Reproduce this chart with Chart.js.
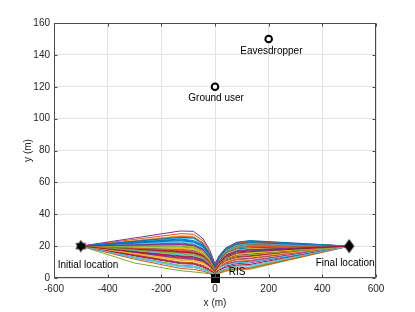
<!DOCTYPE html>
<html>
<head>
<meta charset="utf-8">
<script src="https://cdn.jsdelivr.net/npm/chart.js@4.4.1/dist/chart.umd.min.js"></script>
<style>
html,body{margin:0;padding:0;background:#fff;}
canvas{display:block;}
</style>
</head>
<body>
<canvas id="c" width="415" height="312"></canvas>
<script>
// ---- data ----
const xTicks = [-600, -400, -200, 0, 200, 400, 600];
const yTicks = [0, 20, 40, 60, 80, 100, 120, 140, 160];
const trajX = [-500, -300, -130, -80, -45, -20, 0, 15, 40, 80, 130, 300, 500];
const trajY = [
  [20,21.1,22,21.1,18.5,13.2,6.5,11.4,16.3,19.1,20.5,20.3,20],
  [20,24.2,27.8,27.5,23.4,16.7,8,13.1,18.2,21.5,22.5,21.4,20],
  [20,23.5,26.5,26.2,22.3,15.9,7.5,13.0,18.5,22.1,23.2,21.7,20],
  [20,25.1,29.5,29.3,24.8,17.7,9,13.9,18.8,22.0,23.0,21.6,20],
  [20,19.7,19.5,18.7,16.4,11.7,5.8,10.1,14.3,17.1,18,18.9,20],
  [20,22.7,25,24.7,21,15,7,12.1,17.2,20.5,21.5,20.8,20],
  [20,18.1,16.5,15.8,13.9,9.9,5,8.5,12,14.3,15,17.3,20],
  [20,22.2,24,23,20.2,14.4,7.2,12.4,17.6,21,22,21.1,20],
  [20,15.7,12,11.5,10.1,7.2,3.8,6.3,8.8,10.5,11,15.1,20],
  [20,20.3,20.5,19.7,17.2,12.3,6,10.7,15.5,18.6,19.5,19.7,20],
  [20,13.9,9,8.6,6.8,4.7,2.8,5.1,7.5,9,9.5,14.3,20],
  [20,9.4,4.6,3.8,3.2,2.6,1.3,2.8,4.2,5.2,5.5,12.2,20],
  [20,21.6,23,22.1,19.3,13.8,6.8,11.4,16,19.1,20,20,20],
  [20,16.8,14,13.4,11.8,8.4,4.2,7.5,10.7,12.8,13.5,16.5,20],
  [20,18.9,18,17.3,15.1,10.8,5.5,9.5,13.5,16.2,17,18.4,20],
  [20,23.2,26,25.7,21.8,15.6,7.8,13.1,18.3,21.8,22.8,21.5,20],
  [20,15.1,11,10.6,9,6.3,3.4,5,6.6,7.7,8,13.5,20],
  [20,20.5,21,20.2,17.6,12.6,6.2,11.4,16.6,20,21,20.5,20],
  [20,17.3,15,14.4,12.6,9,4.5,8.5,12.5,15.2,16,17.8,20],
  [20,12.5,7,6.5,5.1,3.6,2,3.8,5.5,6.7,7,13,20],
  [20,18.4,17,16.3,14.3,10.2,5.2,8.3,11.4,13.4,14,16.8,20],
  [20,23,25.5,25.2,21.4,15.3,7.5,13.1,18.7,22.4,23.5,21.9,20],
  [20,14.6,10,9.6,8,5.6,3,6.2,9.3,11.4,12,15.7,20],
  [20,19.5,19,18.2,16,11.4,5.6,10.1,14.6,17.6,18.5,19.2,20],
  [20,16.2,13,12.5,10.9,7.8,4,6.3,8.6,10,10.5,14.9,20],
  [20,13.2,8,7.6,5.9,4.1,2.4,3.8,5.3,6.2,6.5,12.7,20],
  [20,21.4,22.5,21.6,18.9,13.5,6.6,11.9,17.2,20.7,21.8,21,20],
  [20,17.8,16,15.4,13.4,9.6,4.8,9.2,13.7,16.6,17.5,18.7,20],
  [20,22.4,24.5,23.5,20.6,14.7,7.3,11.4,15.5,18.2,19,19.5,20],
  [20,11.8,6,5.4,4.3,3,1.6,3.1,4.7,5.7,6,12.4,20],
  [20,19.2,18.5,17.8,15.5,11.1,5.4,8.9,12.5,14.8,15.5,17.6,20],
  [20,16,12.5,12,10.5,7.5,3.7,6.8,9.9,11.9,12.5,16,20],
  [20,20,20,19.2,16.8,12,6,11.2,16.4,19.8,20.8,20.4,20],
  [20,17,14.5,13.9,12.2,8.7,4.4,6.4,8.3,9.6,10,14.6,20],
  [20,14.2,9.5,9.1,7.4,5.1,2.9,4.9,6.8,8.1,8.5,13.8,20],
  [20,21.9,23.5,22.6,19.7,14.1,7,12.3,17.6,21.1,22.2,21.2,20],
  [20,18.7,17.5,16.8,14.7,10.5,5.3,10.4,15.5,18.8,19.8,19.9,20],
  [20,15.4,11.5,11,9.5,6.7,3.5,6.8,10.2,12.3,13,16.2,20],
  [20,20.8,21.5,20.6,18.1,12.9,6.4,10.4,14.4,17,17.8,18.8,20],
  [20,17.6,15.5,14.9,13,9.3,4.6,8.1,11.5,13.8,14.5,17,20],
  [20,12.9,7.5,7.1,5.5,3.8,2.2,4.2,6.1,7.4,7.8,13.4,20],
  [20,16.5,13.5,13,11.3,8.1,4,8.4,12.8,15.6,16.5,18.1,20]
];
const initialLoc = [-500, 20];
const finalLoc = [500, 20];
const risLoc = [0, 0];
const userLoc = [0, 120];
const eveLoc = [200, 150];
const labelTexts = ['Eavesdropper', 'Ground user', 'Initial location', 'Final location', 'RIS'];
const labelX = [210, 4, -473, 485, 82];
const labelY = [142.2, 112.9, 8, 9, 3.8];

// ---- styles ----
const colorOrder = ['#0072BD','#D95319','#EDB120','#7E2F8E','#77AC30','#4DBEEE','#A2142F'];
const FONT = '"Liberation Sans", Arial, sans-serif';

function makeCanvas(w, h, draw) {
  const c = document.createElement('canvas');
  c.width = w; c.height = h;
  const g = c.getContext('2d');
  g.fillStyle = '#000';
  draw(g, w, h);
  return c;
}
const hexagram = makeCanvas(13, 13, (g, w, h) => {
  const cx = w/2, cy = h/2, r = 6.2;
  for (let k = 0; k < 2; k++) {
    g.beginPath();
    for (let i = 0; i < 3; i++) {
      const a = -Math.PI/2 + k*Math.PI + i*2*Math.PI/3;
      const px = cx + r*Math.cos(a), py = cy + r*Math.sin(a);
      if (i === 0) g.moveTo(px, py); else g.lineTo(px, py);
    }
    g.closePath(); g.fill();
  }
});
const diamond = makeCanvas(11, 15, (g, w, h) => {
  g.beginPath();
  g.moveTo(w/2, 0.5); g.lineTo(w-0.5, h/2); g.lineTo(w/2, h-0.5); g.lineTo(0.5, h/2);
  g.closePath(); g.fill();
});
const square = makeCanvas(9, 9, (g, w, h) => { g.fillRect(0, 0, w, h); });

const datasets = [];
function marker(loc, style) {
  return {
    data: [{x: loc[0], y: loc[1]}], showLine: false, pointStyle: style,
    pointRadius: 6, pointHoverRadius: 6, order: 0, clip: false
  };
}
datasets.push(marker(initialLoc, hexagram));
datasets.push(marker(finalLoc, diamond));
datasets.push(marker(risLoc, square));
[userLoc, eveLoc].forEach(loc => datasets.push({
  data: [{x: loc[0], y: loc[1]}], showLine: false, pointStyle: 'circle',
  pointRadius: 3.3, borderWidth: 2, borderColor: '#000', backgroundColor: '#fff', order: 0
}));
trajY.forEach((ys, i) => {
  datasets.push({
    data: ys.map((y, j) => ({x: trajX[j], y: y})),
    showLine: true, pointRadius: 0, borderWidth: 1, tension: 0,
    borderColor: colorOrder[i % colorOrder.length], backgroundColor: 'transparent',
    order: 1000 - i
  });
});

const boxPlugin = {
  id: 'box',
  afterDatasetsDraw(chart) {
    const ctx = chart.ctx;
    const xs = chart.scales.x, ys = chart.scales.y;
    // labels
    ctx.save();
    ctx.fillStyle = '#000';
    ctx.font = '10px ' + FONT;
    ctx.textAlign = 'center';
    ctx.textBaseline = 'middle';
    labelTexts.forEach((t, i) => {
      ctx.fillText(t, xs.getPixelForValue(labelX[i]), ys.getPixelForValue(labelY[i]));
    });
    ctx.restore();
  },
  afterDraw(chart) {
    const ctx = chart.ctx, a = chart.chartArea;
    const xs = chart.scales.x, ys = chart.scales.y;
    ctx.save();
    ctx.strokeStyle = '#4a4a4a';
    ctx.lineWidth = 1;
    const L = Math.round(a.left) + 0.5, R = Math.round(a.right) - 0.5;
    const T = Math.round(a.top) + 0.5, B = Math.round(a.bottom) - 0.5;
    ctx.beginPath();
    ctx.rect(L, T, R - L, B - T);
    xTicks.forEach(v => {
      const p = Math.round(xs.getPixelForValue(v)) + 0.5;
      ctx.moveTo(p, B); ctx.lineTo(p, B - 3);
      ctx.moveTo(p, T); ctx.lineTo(p, T + 3);
    });
    yTicks.forEach(v => {
      const p = Math.round(ys.getPixelForValue(v)) + 0.5;
      ctx.moveTo(L, p); ctx.lineTo(L + 3, p);
      ctx.moveTo(R, p); ctx.lineTo(R - 3, p);
    });
    ctx.stroke();
    ctx.restore();
  }
};

new Chart(document.getElementById('c'), {
  type: 'scatter',
  data: { datasets },
  options: {
    responsive: false, animation: false, devicePixelRatio: 1,
    layout: { padding: { top: 23, right: 39, left: 0, bottom: 0 } },
    plugins: { legend: { display: false }, tooltip: { enabled: false } },
    events: [],
    scales: {
      x: {
        type: 'linear', min: -600, max: 600,
        afterBuildTicks: s => { s.ticks = xTicks.map(v => ({value: v})); },
        afterFit: s => { s.height = 34; },
        grid: { color: '#e2e2e2', drawTicks: false },
        border: { display: false },
        ticks: { padding: 5, autoSkip: false, maxRotation: 0, color: '#262626', font: { family: FONT, size: 10 } },
        title: { display: true, text: 'x (m)', color: '#262626', font: { family: FONT, size: 10 }, padding: { top: 0, bottom: 3 } }
      },
      y: {
        type: 'linear', min: 0, max: 160,
        afterBuildTicks: s => { s.ticks = yTicks.map(v => ({value: v})); },
        afterFit: s => { s.width = 54; },
        grid: { color: '#e2e2e2', drawTicks: false },
        border: { display: false },
        ticks: { padding: 4, autoSkip: false, color: '#262626', font: { family: FONT, size: 10 } },
        title: { display: true, text: 'y (m)', color: '#262626', font: { family: FONT, size: 10 }, padding: { top: 22, bottom: 0 } }
      }
    }
  },
  plugins: [boxPlugin]
});
</script>
</body>
</html>
